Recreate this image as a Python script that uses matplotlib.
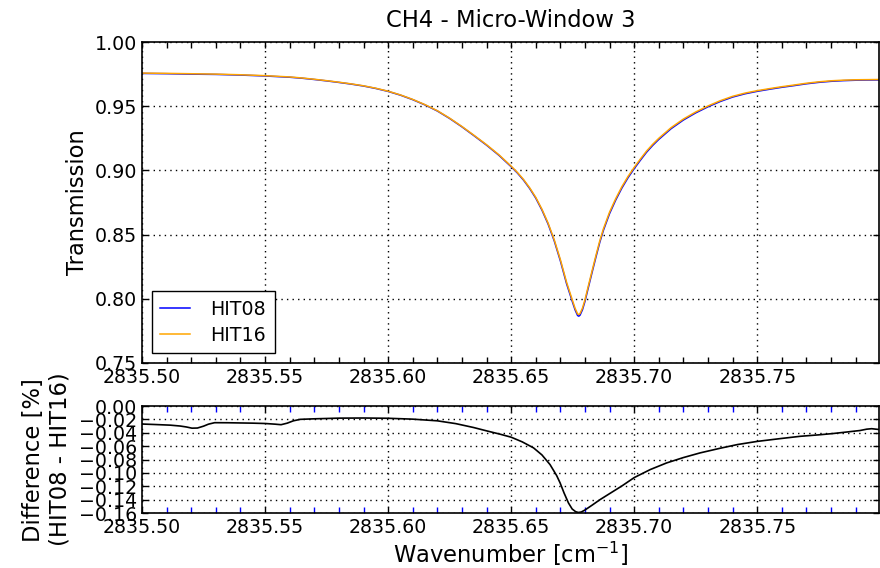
import matplotlib
matplotlib.use("Agg")
import matplotlib.pyplot as plt
from matplotlib.ticker import MultipleLocator, FuncFormatter

# transmission spectra
wn = [2835.500, 2835.510, 2835.520, 2835.530, 2835.540, 2835.550, 2835.560,
      2835.565, 2835.570, 2835.575, 2835.580, 2835.585, 2835.590, 2835.595,
      2835.600, 2835.605, 2835.610, 2835.615, 2835.620, 2835.625, 2835.630,
      2835.635, 2835.640, 2835.645, 2835.650, 2835.6525, 2835.655, 2835.6575,
      2835.660, 2835.6625, 2835.665, 2835.6675, 2835.670, 2835.6725,
      2835.675, 2835.676, 2835.677, 2835.6775, 2835.678, 2835.679, 2835.680,
      2835.6815, 2835.683, 2835.6845, 2835.686, 2835.6875, 2835.690,
      2835.6925, 2835.695, 2835.6975, 2835.700, 2835.7025, 2835.705,
      2835.7075, 2835.710, 2835.715, 2835.720, 2835.725, 2835.730, 2835.735,
      2835.740, 2835.745, 2835.750, 2835.755, 2835.760, 2835.765, 2835.770,
      2835.775, 2835.780, 2835.785, 2835.790, 2835.795, 2835.7995]
hit16 = [0.9758, 0.9756, 0.9753, 0.9750, 0.9745, 0.9738, 0.9728,
         0.9720, 0.9710, 0.9699, 0.9687, 0.9674, 0.9659, 0.9640,
         0.9617, 0.9588, 0.9553, 0.9512, 0.9465, 0.9407, 0.9342,
         0.9272, 0.9200, 0.9122, 0.9033, 0.8985, 0.8930, 0.8865,
         0.8790, 0.8698, 0.8590, 0.8460, 0.8305, 0.8130,
         0.7982, 0.7925, 0.7882, 0.7877, 0.7885, 0.7928, 0.7992,
         0.8110, 0.8226, 0.8340, 0.8450, 0.8545, 0.8675,
         0.8780, 0.8873, 0.8953, 0.9023, 0.9088, 0.9150,
         0.9203, 0.9250, 0.9333, 0.9400, 0.9455, 0.9502, 0.9543,
         0.9577, 0.9602, 0.9621, 0.9637, 0.9652, 0.9665, 0.9679,
         0.9690, 0.9698, 0.9703, 0.9706, 0.9707, 0.9708]
hit08 = [0.97554, 0.97533, 0.97498, 0.97476, 0.97426, 0.97355, 0.97257,
         0.97181, 0.97082, 0.96973, 0.96853, 0.96723, 0.96573, 0.96383,
         0.96153, 0.95862, 0.95511, 0.95100, 0.94629, 0.94046, 0.93394,
         0.92690, 0.91967, 0.91183, 0.90288, 0.89805, 0.89252, 0.88598,
         0.87842, 0.86916, 0.85829, 0.84518, 0.82954, 0.81188,
         0.79699, 0.79126, 0.78695, 0.78645, 0.78725, 0.79155, 0.79796,
         0.80977, 0.82138, 0.83280, 0.84382, 0.85334, 0.86638,
         0.87693, 0.88627, 0.89432, 0.90134, 0.90787, 0.91410,
         0.91943, 0.92416, 0.93250, 0.93925, 0.94480, 0.94955, 0.95369,
         0.95713, 0.95966, 0.96160, 0.96322, 0.96474, 0.96606, 0.96747,
         0.96858, 0.96940, 0.96992, 0.97024, 0.97037, 0.97046]

# relative difference in percent
wn_diff = [2835.500, 2835.505, 2835.5115, 2835.5155, 2835.518, 2835.5203,
           2835.5225, 2835.525, 2835.527, 2835.5295, 2835.535, 2835.540,
           2835.545, 2835.550, 2835.554, 2835.5565, 2835.559, 2835.5615,
           2835.5643, 2835.570, 2835.580, 2835.590, 2835.600, 2835.610,
           2835.620, 2835.6275, 2835.6347, 2835.640, 2835.6455, 2835.650,
           2835.6545, 2835.6591, 2835.6625, 2835.6658, 2835.6685, 2835.6699,
           2835.6715, 2835.6733, 2835.6748, 2835.6762, 2835.6773, 2835.6785,
           2835.680, 2835.683, 2835.6861, 2835.690, 2835.695, 2835.700,
           2835.7065, 2835.7132, 2835.720, 2835.7268, 2835.735, 2835.742,
           2835.750, 2835.7585, 2835.7674, 2835.775, 2835.7809, 2835.787,
           2835.7918, 2835.7945, 2835.7965, 2835.7995]
diff = [-0.0268, -0.0275, -0.0285, -0.0298, -0.0312, -0.0330,
        -0.0328, -0.0300, -0.0270, -0.0248, -0.0249, -0.0252,
        -0.0255, -0.0260, -0.0270, -0.0278, -0.0255, -0.0220,
        -0.0198, -0.0190, -0.0180, -0.0178, -0.0182, -0.0195,
        -0.0220, -0.0262, -0.0320, -0.0370, -0.0420, -0.0465,
        -0.0535, -0.0625, -0.0730, -0.0875, -0.1040, -0.1150,
        -0.1300, -0.1450, -0.1540, -0.1580, -0.1592, -0.1585,
        -0.1555, -0.1480, -0.1400, -0.1310, -0.1195, -0.1070,
        -0.0950, -0.0850, -0.0770, -0.0700, -0.0630, -0.0575,
        -0.0528, -0.0490, -0.0452, -0.0430, -0.0410, -0.0385,
        -0.0365, -0.0345, -0.0338, -0.0350]

xmin, xmax = 2835.50, 2835.7995
tick_fs = 13.7
label_fs = 16.3


def fmt2(v, pos):
    s = '%.2f' % v
    if s == '-0.00':
        s = '0.00'
    return s.replace('-', '\u2212')


plt.rcParams['font.family'] = 'DejaVu Sans'
plt.rcParams['xtick.direction'] = 'in'
plt.rcParams['ytick.direction'] = 'in'
plt.rcParams['xtick.top'] = True
plt.rcParams['ytick.right'] = True

fig = plt.figure(figsize=(8.8, 5.68), dpi=100)
ax1 = fig.add_axes([0.1614, 0.361, 0.8375, 0.565])
ax2 = fig.add_axes([0.1614, 0.0968, 0.8375, 0.1882])

ax1.plot(wn, hit08, color='b', lw=1.1, label='HIT08')
ax1.plot(wn, hit16, color='orange', lw=1.1, label='HIT16')
ax1.set_xlim(xmin, xmax)
ax1.set_ylim(0.75, 1.00)
ax1.yaxis.set_major_locator(MultipleLocator(0.05))
ax1.set_ylabel('Transmission', fontsize=label_fs)
ax1.yaxis.set_label_coords(-0.072, 0.5)
ax1.set_title('CH4 - Micro-Window 3', fontsize=label_fs, pad=11)
ax1.legend(loc='lower left', fontsize=tick_fs, fancybox=False, framealpha=1,
           edgecolor='k', handlelength=1.55, handletextpad=1.1,
           labelspacing=0.38, borderaxespad=0.5, borderpad=0.45)

ax2.plot(wn_diff, diff, color='k', lw=1.2)
ax2.set_xlim(xmin, xmax)
ax2.set_ylim(-0.16, 0.0)
ax2.yaxis.set_major_locator(MultipleLocator(0.02))
ax2.set_ylabel('Difference [%]\n(HIT08 - HIT16)', fontsize=label_fs)
ax2.yaxis.set_label_coords(-0.096, 0.5)
ax2.set_xlabel('Wavenumber [cm$^{-1}$]', fontsize=label_fs, labelpad=2)

for ax in (ax1, ax2):
    ax.xaxis.set_major_locator(MultipleLocator(0.05))
    ax.xaxis.set_minor_locator(MultipleLocator(0.01))
    ax.xaxis.set_major_formatter(FuncFormatter(fmt2))
    ax.yaxis.set_major_formatter(FuncFormatter(fmt2))
    ax.tick_params(which='both', labelsize=tick_fs, length=4, width=1)
    ax.grid(True, which='major', color='k', linestyle=(0, (1, 3)), linewidth=1)
    for s in ax.spines.values():
        s.set_linewidth(1.2)

ax2.tick_params(axis='x', which='minor', color='b')

fig.savefig('out.png', dpi=100)
